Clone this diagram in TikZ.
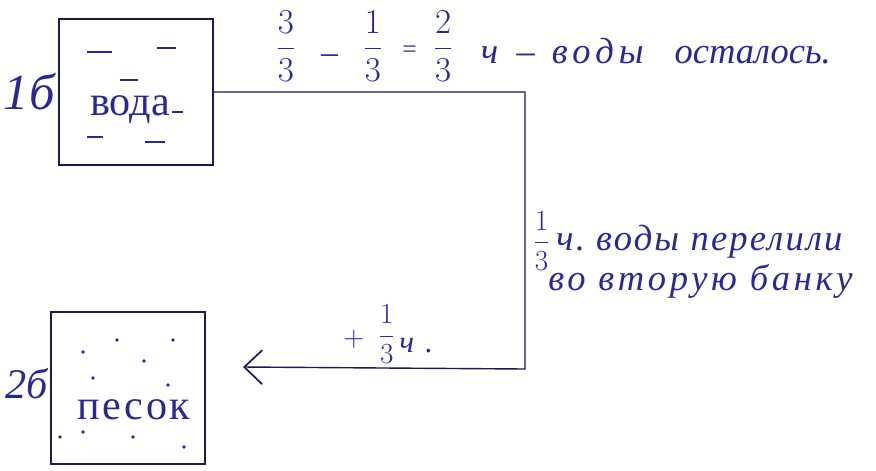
\documentclass[tikz,border=0pt]{standalone}
\usepackage{amsmath}
\usepackage{fontspec}
\setmainfont{Liberation Serif}
\usetikzlibrary{arrows.meta,positioning}
\definecolor{ink}{RGB}{40,40,150}
\definecolor{pen}{RGB}{25,25,85}

\begin{document}
\begin{tikzpicture}[
    x=0.025cm, y=-0.025cm,
    % --- STYLES ---
    jar/.style={
        rectangle, draw=pen, line width=1.1pt,
        minimum width=3.85cm, minimum height=3.7cm,
        inner sep=0pt
    },
    hand/.style={text=ink, font=\fontsize{24}{40}\selectfont\itshape, inner sep=0pt},
    tag/.style={text=ink, font=\fontsize{36}{38}\selectfont\itshape, inner sep=0pt},
    content/.style={text=ink, font=\fontsize{30}{32}\selectfont, inner sep=0pt},
    stroke/.style={draw=ink, line width=1pt},
    flow/.style={draw=pen, line width=1pt,
        -{Straight Barb[length=0.45cm, width=0.85cm, line width=1.2pt]}}
]
\useasboundingbox (0,0) rectangle (876,470);

% ===== 1. JARS =====
\node[jar, minimum height=3.65cm] (jar1) at (136,92) {};
\node[jar, minimum height=3.8cm] (jar2) at (128,388) {};

\node[tag, left=0.08cm of jar1] (num1) {1б};
\node[tag, font=\fontsize{30}{32}\selectfont\itshape, left=0.05cm of jar2, yshift=0.1cm] (num2) {2б};

\node[content] (water) at (130,110) {вода};
\node[content, font=\fontsize{30}{32}\selectfont\addfontfeature{LetterSpace=6}] (sand) at (134,410) {песок};

% water strokes
\foreach \xa/\xb/\y in {87/112/52, 157/176/48, 120/138/80, 87/103/137, 145/165/142, 172/183/112}
    \draw[stroke] (\xa,\y) -- (\xb,\y);

% sand dots
\foreach \x/\y in {83/352, 117/340, 173/340, 144/361, 93/378, 168/385,
                   60/437, 83/432, 133/437, 184/447}
    \fill[ink] (\x,\y) circle (1.3pt);

% ===== 2. CONNECTION =====
\coordinate (turn) at (525,369);
\coordinate (tip) at (243,367);
\draw[flow] (jar1.east) -| (turn) -- (tip);

% ===== 3. LABELS =====
\node[hand, font=\fontsize{26}{40}\selectfont\itshape, anchor=base west] (rest) at (276,63)
    {\fontsize{24}{30}\selectfont\raisebox{4pt}{$\dfrac{3}{3}$}\hspace{18pt}–\hspace{18pt}\raisebox{4pt}{$\dfrac{1}{3}$}\hspace{13pt}{\fontsize{18}{20}\selectfont\raisebox{4pt}{=}}\hspace{11pt}\raisebox{4pt}{$\dfrac{2}{3}$}\hspace{20pt}%
     {\fontsize{26}{30}\selectfont ч\hspace{13pt}–\hspace{12pt}{\addfontfeature{LetterSpace=14}воды}\hspace{22pt}осталось.}};

\node[hand, font=\fontsize{26}{28}\selectfont\itshape\addfontfeature{LetterSpace=6},
      align=left, anchor=base west] (moved) at (533,250)
    {{\fontsize{20}{22}\selectfont$\dfrac{1}{3}$}\,ч.\ воды перелили};
\node[hand, font=\fontsize{26}{28}\selectfont\itshape\addfontfeature{LetterSpace=10},
      anchor=base west] (moved2) at (548,290) {во вторую банку};

\node[hand, font=\fontsize{22}{24}\selectfont\itshape, anchor=base west] (plus) at (343,352)
    {\raisebox{4pt}{$+$}\hspace{10pt}\raisebox{6pt}{$\dfrac{1}{3}$}\hspace{3pt}ч\hspace{8pt}.};

\end{tikzpicture}
\end{document}
